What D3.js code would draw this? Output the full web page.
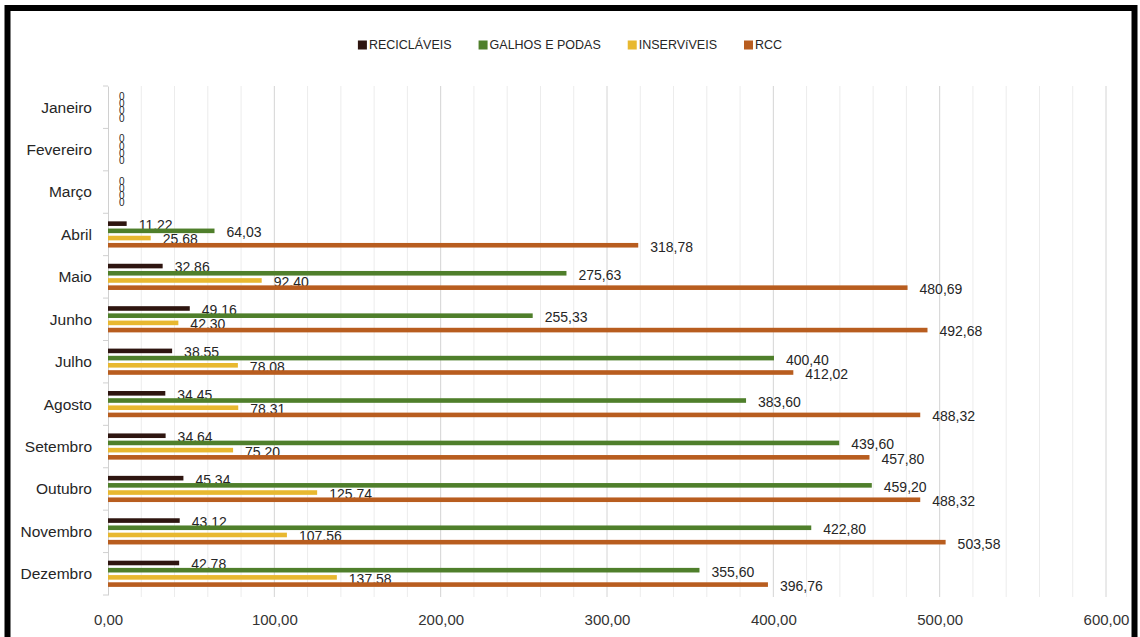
<!DOCTYPE html>
<html>
<head>
<meta charset="utf-8">
<script src="https://cdn.jsdelivr.net/npm/d3@7/dist/d3.min.js"></script>
<style>
  html, body { margin: 0; padding: 0; background: #fff; }
  svg { display: block; }
  text { font-family: "Liberation Sans", Arial, sans-serif; }
</style>
</head>
<body>
<svg id="chart" width="1140" height="637"></svg>
<script>
const categories = ["Janeiro","Fevereiro","Março","Abril","Maio","Junho","Julho","Agosto","Setembro","Outubro","Novembro","Dezembro"];
const seriesNames = ["RECICLÁVEIS","GALHOS E PODAS","INSERVíVEIS","RCC"];
const reciclaveis = [0,0,0,11.22,32.86,49.16,38.55,34.45,34.64,45.34,43.12,42.78];
const galhos      = [0,0,0,64.03,275.63,255.33,400.40,383.60,439.60,459.20,422.80,355.60];
const inserviveis = [0,0,0,25.68,92.40,42.30,78.08,78.31,75.20,125.74,107.56,137.58];
const rcc         = [0,0,0,318.78,480.69,492.68,412.02,488.32,457.80,488.32,503.58,396.76];
const xTicks = [0,100,200,300,400,500,600];
const colors = ["#2e1510","#4f7f2b","#e8b830","#b85d1f"];

const seriesValues = [reciclaveis, galhos, inserviveis, rcc];

const svg = d3.select("#chart");
const W = 1140, H = 637;

// frame
svg.append("rect").attr("x",0).attr("y",0).attr("width",W).attr("height",H).attr("fill","#fff");
svg.append("rect").attr("x",7.5).attr("y",8).attr("width",1127).attr("height",660)
  .attr("fill","none").attr("stroke","#000").attr("stroke-width",6);

const x = d3.scaleLinear().domain([0,600]).range([108,1106]);
const y = d3.scaleBand().domain(categories).range([86,595]).paddingInner(0).paddingOuter(0);
const inner = d3.scaleBand().domain(d3.range(4)).range([6.8, 35.6]).padding(0);
const barH = 4.6;

// gridlines every 20
const grid = d3.range(20, 601, 20);
svg.append("g").selectAll("line").data(grid).join("line")
  .attr("x1", d => x(d)).attr("x2", d => x(d))
  .attr("y1", 86).attr("y2", 597)
  .attr("stroke", d => d % 100 === 0 ? "#d4d4d4" : "#ececec")
  .attr("stroke-width", 1);

// y axis line + ticks
const yAxis = d3.axisLeft(y).tickSize(0).tickPadding(16).tickFormat(d => d);
const yg = svg.append("g").attr("transform","translate(108,0)").call(yAxis);
yg.select(".domain").attr("stroke","#d0d0d0");
yg.selectAll("text").attr("font-size","15.5px").attr("fill","#262626").attr("dy","0.35em")
  .attr("font-family","Liberation Sans, Arial, sans-serif");
// boundary ticks
const bounds = categories.map(c => y(c)).concat([595]);
svg.append("g").selectAll("line").data(bounds).join("line")
  .attr("x1",103).attr("x2",108).attr("y1",d=>d).attr("y2",d=>d)
  .attr("stroke","#d0d0d0");

// x axis labels
const xAxis = d3.axisBottom(x).tickValues(xTicks).tickSize(0).tickPadding(0)
  .tickFormat(d => d3.format(".2f")(d).replace(".", ","));
const xg = svg.append("g").attr("transform","translate(0,614)").call(xAxis);
xg.select(".domain").remove();
xg.selectAll("text").attr("font-size","15px").attr("fill","#333").attr("font-family","Liberation Sans, Arial, sans-serif");

// bars
const fmt = v => v === 0 ? "0" : d3.format(".2f")(v).replace(".", ",");
seriesValues.forEach((vals, si) => {
  const g = svg.append("g");
  g.selectAll("rect").data(vals).join("rect")
    .attr("x", x(0))
    .attr("y", (d,i) => y(categories[i]) + inner(si) + (inner.bandwidth()-barH)/2)
    .attr("width", d => x(d) - x(0))
    .attr("height", barH)
    .attr("fill", colors[si]);
  g.selectAll("text").data(vals).join("text")
    .attr("x", d => x(d) + (d === 0 ? 11 : 12))
    .attr("y", (d,i) => y(categories[i]) + inner(si) + inner.bandwidth()/2 + (d === 0 ? 0 : 1.5))
    .attr("dy","0.35em")
    .attr("font-size", d => d === 0 ? "10px" : "14px")
    .attr("fill","#262626")
    .text(d => fmt(d));
});

// legend
const leg = svg.append("g");
let lx = 0;
seriesNames.forEach((n, i) => {
  const gi = leg.append("g");
  gi.append("rect").attr("x",0).attr("y",-4.5).attr("width",9).attr("height",9).attr("fill",colors[i]);
  const t = gi.append("text").attr("x",11).attr("y",0).attr("dy","0.35em")
    .attr("font-size","12.5px").attr("fill","#262626").text(n);
  const w = 11 + t.node().getComputedTextLength();
  gi.attr("transform", `translate(${lx},0)`);
  lx += w + 27;
});
const totalW = lx - 27;
leg.attr("transform", `translate(${570 - totalW/2},45)`);
</script>
</body>
</html>
